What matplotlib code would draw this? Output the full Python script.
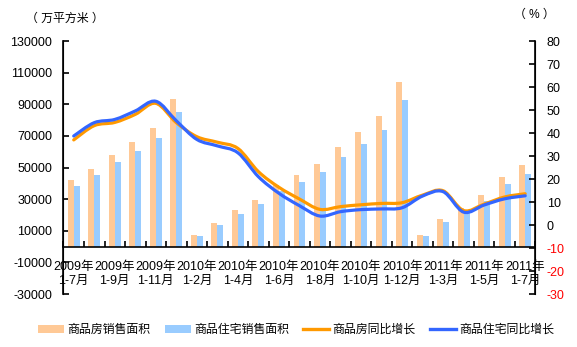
import numpy as np
import matplotlib.pyplot as plt
from matplotlib.path import Path
from matplotlib.patches import PathPatch, Patch
from matplotlib.lines import Line2D

plt.rcParams['font.family'] = ['Liberation Sans', 'Noto Sans CJK SC', 'DejaVu Sans']

months = ['2009年\n1-7月', '2009年\n1-8月', '2009年\n1-9月', '2009年\n1-10月', '2009年\n1-11月', '2009年\n1-12月',
          '2010年\n1-2月', '2010年\n1-3月', '2010年\n1-4月', '2010年\n1-5月', '2010年\n1-6月', '2010年\n1-7月',
          '2010年\n1-8月', '2010年\n1-9月', '2010年\n1-10月', '2010年\n1-11月', '2010年\n1-12月',
          '2011年\n1-2月', '2011年\n1-3月', '2011年\n1-4月', '2011年\n1-5月', '2011年\n1-6月', '2011年\n1-7月']

# 万平方米
house_area = [42000, 49300, 58200, 66400, 75200, 93600, 7150, 15200, 23400, 29700, 39200, 45500,
              52500, 63200, 72700, 82800, 104300, 7600, 17700, 24700, 32900, 44300, 51900]
resid_area = [38500, 45500, 53800, 60700, 68900, 85400, 6500, 13900, 20900, 27200, 35400, 41100,
              47400, 56900, 65100, 74000, 93000, 7000, 15800, 21500, 29100, 39800, 46200]
# %
house_yoy = [37.0, 43.2, 44.6, 48.1, 52.9, 44.5, 38.4, 36.0, 33.3, 23.2, 16.4, 11.3,
             6.8, 8.0, 8.8, 9.4, 9.7, 13.0, 14.9, 6.3, 9.1, 12.2, 13.6]
resid_yoy = [38.7, 44.5, 45.9, 49.6, 53.8, 45.3, 37.2, 34.4, 31.4, 21.0, 13.8, 8.4,
             3.9, 5.8, 6.7, 7.0, 7.5, 12.6, 14.5, 5.6, 8.7, 11.4, 12.7]

left_ticks = [130000, 110000, 90000, 70000, 50000, 30000, 10000, -10000, -30000]
right_ticks = list(range(-30, 90, 10))

c_house_bar = '#FFC996'
c_resid_bar = '#99CCFF'
c_house_line = '#FF9900'
c_resid_line = '#3366FF'


def smooth_path(xs, ys):
        # excel style smoothed line through every point (bezier segments)
        xs = np.asarray(xs, float)
        ys = np.asarray(ys, float)
        n = len(xs)
        verts = [(xs[0], ys[0])]
        codes = [Path.MOVETO]
        for i in range(n - 1):
                p0 = np.array([xs[max(i - 1, 0)], ys[max(i - 1, 0)]])
                p1 = np.array([xs[i], ys[i]])
                p2 = np.array([xs[i + 1], ys[i + 1]])
                p3 = np.array([xs[min(i + 2, n - 1)], ys[min(i + 2, n - 1)]])
                c1 = p1 + (p2 - p0) / 6.0
                c2 = p2 - (p3 - p1) / 6.0
                verts += [tuple(c1), tuple(c2), tuple(p2)]
                codes += [Path.CURVE4] * 3
        return Path(verts, codes)


fig = plt.figure(figsize=(5.77, 3.47), dpi=100)
ax = fig.add_axes([0.1100, 0.1527, 0.8180, 0.7291])
ax2 = ax.twinx()

x = np.arange(len(months))
w = 0.29
ax.bar(x - w / 2, house_area, w, color=c_house_bar, linewidth=0, zorder=2)
ax.bar(x + w / 2, resid_area, w, color=c_resid_bar, linewidth=0, zorder=2)

ax.set_xlim(-0.5, len(months) - 0.5)
ax.set_ylim(-30000, 130000)
ax2.set_ylim(-30, 80)

ax2.add_patch(PathPatch(smooth_path(x, house_yoy), facecolor='none', edgecolor=c_house_line, lw=2.3, capstyle='round'))
ax2.add_patch(PathPatch(smooth_path(x, resid_yoy), facecolor='none', edgecolor=c_resid_line, lw=2.3, capstyle='round'))

for a in (ax, ax2):
        a.spines['top'].set_visible(False)
ax2.spines['bottom'].set_visible(False)
ax.spines['bottom'].set_position(('data', 0))
ax.spines['left'].set_linewidth(1.2)
ax2.spines['right'].set_linewidth(1.2)
ax.spines['bottom'].set_linewidth(1.2)

ax.set_yticks(left_ticks)
ax.set_yticklabels([str(t) for t in left_ticks])
ax.tick_params(axis='y', direction='in', length=4.5, width=1.2, pad=8, labelsize=9)

ax2.set_yticks(right_ticks)
ax2.set_yticklabels([str(t) for t in right_ticks])
ax2.tick_params(axis='y', direction='in', length=4.5, width=1.2, pad=8, labelsize=9)
for t, lab in zip(right_ticks, ax2.get_yticklabels()):
        if t < 0:
                lab.set_color('#FF0000')

# category ticks between groups, labels every other month
ax.set_xticks(np.arange(len(months) + 1) - 0.5)
ax.set_xticklabels([])
ax.tick_params(axis='x', which='major', direction='in', length=4, width=1.2)
ax.set_xticks(x[::2], minor=True)
ax.set_xticklabels(months[::2], minor=True, fontsize=9, linespacing=1.15)
ax.tick_params(axis='x', which='minor', length=0, pad=10.5)

fig.text(0.112, 0.945, '（ 万平方米 ）', fontsize=8.6, ha='center', va='center')
fig.text(0.9255, 0.957, '（ % ）', fontsize=8.6, ha='center', va='center')

handles = [Patch(facecolor=c_house_bar, edgecolor='none'),
           Patch(facecolor=c_resid_bar, edgecolor='none'),
           Line2D([], [], color=c_house_line, lw=2.4),
           Line2D([], [], color=c_resid_line, lw=2.4)]
labels = ['商品房销售面积', '商品住宅销售面积', '商品房同比增长', '商品住宅同比增长']
fig.legend(handles, labels, loc='center', bbox_to_anchor=(0.513, 0.049), ncol=4, frameon=False,
           fontsize=8.6, handlelength=2.2, handleheight=0.6, handletextpad=0.25, columnspacing=1.2)

fig.savefig('out.png', dpi=100)
